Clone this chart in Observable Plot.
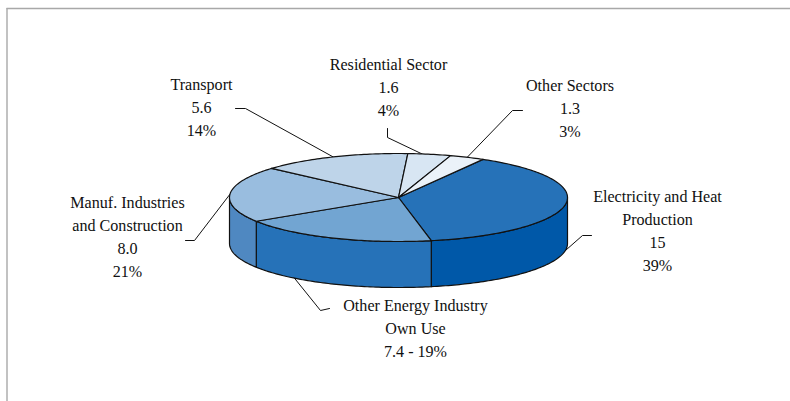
<!DOCTYPE html>
<html>
<head>
<meta charset="utf-8">
<script src="https://cdn.jsdelivr.net/npm/d3@7"></script>
<script src="https://cdn.jsdelivr.net/npm/@observablehq/plot@0.6"></script>
<style>html,body{margin:0;padding:0;background:#fff}svg{display:block}</style>
</head>
<body>
<div id="chart"></div>
<script>
// Data
const categories = ["Electricity and Heat Production", "Other Energy Industry Own Use", "Manuf. Industries and Construction", "Transport", "Residential Sector", "Other Sectors"];
const values = [15, 7.4, 8.0, 5.6, 1.6, 1.3];
const labels = [
  "Electricity and Heat\nProduction\n15\n39%",
  "Other Energy Industry\nOwn Use\n7.4 - 19%",
  "Manuf. Industries\nand Construction\n8.0\n21%",
  "Transport\n5.6\n14%",
  "Residential Sector\n1.6\n4%",
  "Other Sectors\n1.3\n3%"
];

// Styles
const topColors  = ["#2672B8", "#72A5D2", "#99BDDF", "#BED4E9", "#D8E6F3", "#EBF2F9"];
const sideColors = ["#0058A8", "#2672B8", "#4F88C1", "#BED4E9", "#D8E6F3", "#EBF2F9"];

// Pie geometry
const cx = 398, cy = 197, rx = 169, ry = 44, depth = 46, startDeg = -60;
const total = d3.sum(values);
let acc = startDeg;
const slices = values.map((v, i) => {
  const a0 = acc; acc += v / total * 360;
  return {i, a0, a1: acc, mid: (a0 + acc) / 2};
});
const pt = (deg, off = 0) => ({
  x: cx + rx * Math.cos(deg * Math.PI / 180),
  y: cy + ry * Math.sin(deg * Math.PI / 180) + off
});
const arc = (a0, a1, off = 0) => {
  const n = Math.max(2, Math.ceil(Math.abs(a1 - a0)));
  return d3.range(n + 1).map(k => pt(a0 + (a1 - a0) * k / n, off));
};

// Top wedges
const topRows = slices.flatMap(s =>
  [{x: cx, y: cy}, ...arc(s.a0, s.a1), {x: cx, y: cy}]
    .map(p => ({...p, z: categories[s.i], fill: topColors[s.i]})));

// Visible wall: the part of each slice on the front half of the ellipse
const sideRows = slices.flatMap(s => {
  const a0 = Math.max(s.a0, 0), a1 = Math.min(s.a1, 180);
  if (a1 <= a0) return [];
  const up = arc(a0, a1), down = arc(a1, a0, depth);
  return [...up, ...down, up[0]].map(p => ({...p, z: categories[s.i], fill: sideColors[s.i]}));
});

// Label layout: centre, first baseline, leader bend, leader end
const fontSize = 16.1, lineH = 22.7;
const layout = [
  {lx: 657, base: 202, leader: [[591, 235], [582, 235]], off: depth},
  {lx: 415, base: 311, leader: [[329, 308], [320, 310]], off: depth, angle: 128},
  {lx: 127, base: 208, leader: [[185, 240], [194, 240]], off: 0},
  {lx: 201, base: 90,  leader: [[235, 108], [245, 108]], off: 0},
  {lx: 388, base: 70,  leader: [[387, 128], [387, 137]], off: 0, angle: 278},
  {lx: 569.5, base: 91, leader: [[522, 110], [512, 110]], off: 0}
];
const leaderRows = layout.flatMap((l, i) => {
  const end = pt(l.angle ?? slices[i].mid, l.off);
  return [...l.leader.map(([x, y]) => ({x, y})), end].map(p => ({...p, z: categories[i]}));
});
const labelRows = layout.map((l, i) => ({x: l.lx, y: l.base - 0.71 * lineH, text: labels[i]}));

const chart = Plot.plot({
  width: 790, height: 401,
  margin: 0,
  x: {domain: [0, 790], range: [0, 790], axis: null},
  y: {domain: [0, 401], range: [0, 401], axis: null},
  style: {background: "#fff"},
  marks: [
    Plot.ruleY([8], {x1: 6.5, x2: 790, stroke: "#a8a8a8", strokeWidth: 1.4}),
    Plot.ruleX([6.5], {y1: 8, y2: 401, stroke: "#a8a8a8", strokeWidth: 1.4}),
    Plot.line(leaderRows, {x: "x", y: "y", z: "z", stroke: "#111", strokeWidth: 1}),
    Plot.line(sideRows, {x: "x", y: "y", z: "z", fill: "fill", stroke: "#111", strokeWidth: 1.2}),
    Plot.line(topRows, {x: "x", y: "y", z: "z", fill: "fill", stroke: "#111", strokeWidth: 1.2}),
    Plot.text(labelRows, {
      x: "x", y: "y", text: "text",
      textAnchor: "middle", lineAnchor: "top",
      lineHeight: lineH / fontSize,
      fontFamily: "'Liberation Serif'", fontSize, fill: "#111"
    })
  ]
});
document.getElementById("chart").append(chart);
</script>
</body>
</html>
